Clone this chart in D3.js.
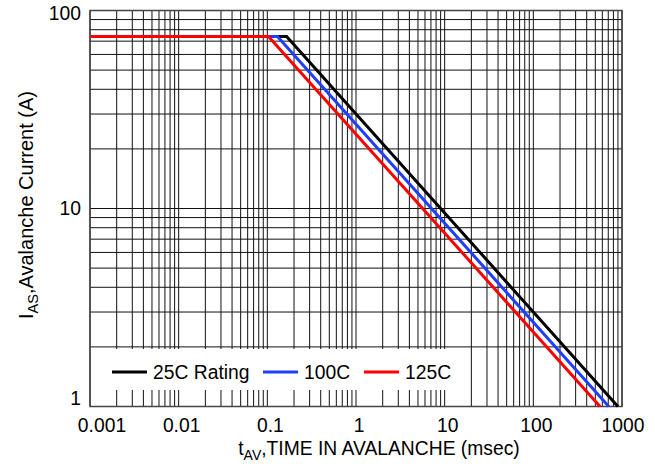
<!DOCTYPE html>
<html>
<head>
<meta charset="utf-8">
<script src="https://cdn.jsdelivr.net/npm/d3@7"></script>
<style>
  html, body { margin: 0; padding: 0; background: #fff; }
  svg text { font-family: "Liberation Sans", Arial, Helvetica, sans-serif; fill: #000; }
</style>
</head>
<body>
<svg id="chart" width="655" height="464"></svg>
<script>
// ---- data ----
const xTicks = [0.001, 0.01, 0.1, 1, 10, 100, 1000];
const xTickLabels = ["0.001", "0.01", "0.1", "1", "10", "100", "1000"];
const yTicks = [1, 10, 100];
const yTickLabels = ["1", "10", "100"];
const seriesNames = ["25C Rating", "100C", "125C"];
const seriesColors = ["#000000", "#1f3fff", "#ff0000"];
const t25 = [0.001, 0.165, 900];
const i25 = [74, 74, 1];
const t100 = [0.001, 0.13, 710];
const i100 = [74, 74, 1];
const t125 = [0.001, 0.103, 565];
const i125 = [74, 74, 1];

// ---- layout ----
const pLeft = 90, pRight = 622, pTop = 10.5, pBottom = 406.5;
const fs = 19.3;
const svg = d3.select("#chart");
const x = d3.scaleLog().domain([0.001, 1000]).range([pLeft, pRight]);
const y = d3.scaleLog().domain([1, 100]).range([pBottom, pTop]);

// grid
const g = svg.append("g");
g.selectAll("line.vx").data(x.ticks()).join("line")
  .attr("x1", d => x(d)).attr("x2", d => x(d))
  .attr("y1", pTop).attr("y2", pBottom)
  .attr("stroke", "#111").attr("stroke-width", 1);
g.selectAll("line.hy").data(y.ticks()).join("line")
  .attr("y1", d => y(d)).attr("y2", d => y(d))
  .attr("x1", pLeft).attr("x2", pRight)
  .attr("stroke", "#111").attr("stroke-width", 1);

// legend background (drawn over grid)
svg.append("rect").attr("x", pLeft + 1).attr("y", 349).attr("width", 372).attr("height", 41).attr("fill", "#fff");

// frame
svg.append("rect").attr("x", pLeft).attr("y", pTop).attr("width", pRight - pLeft).attr("height", pBottom - pTop)
  .attr("fill", "none").attr("stroke", "#444").attr("stroke-width", 1.5);

// series
const series = [[t25, i25], [t100, i100], [t125, i125]];
const line = d3.line().x(d => x(d[0])).y(d => y(d[1]));
series.forEach((s, k) => {
  const pts = s[0].map((t, j) => [t, s[1][j]]);
  svg.append("path").datum(pts).attr("d", line)
    .attr("fill", "none").attr("stroke", seriesColors[k]).attr("stroke-width", 3)
    .attr("stroke-linejoin", "miter");
});

// x tick labels
svg.selectAll("text.xl").data(xTicks).join("text")
  .attr("x", (d, i) => i === 0 ? x(d) + 12 : (i === xTicks.length - 1 ? x(d) + 1 : x(d) + 3))
  .attr("y", 432)
  .attr("text-anchor", "middle").attr("font-size", fs)
  .text((d, i) => xTickLabels[i]);

// y tick labels
svg.selectAll("text.yl").data(yTicks).join("text")
  .attr("x", 81)
  .attr("y", d => Math.max(20, Math.min(405, y(d) + 6)))
  .attr("text-anchor", "end").attr("font-size", fs)
  .text((d, i) => yTickLabels[i]);

// axis titles
const xt = svg.append("text").attr("x", 379).attr("y", 455).attr("text-anchor", "middle").attr("font-size", fs);
xt.append("tspan").text("t");
xt.append("tspan").attr("font-size", 14).attr("dy", 5).text("AV");
xt.append("tspan").attr("dy", -5).text(",TIME IN AVALANCHE (msec)");

const yt = svg.append("text").attr("transform", "translate(33,205) rotate(-90)").attr("text-anchor", "middle").attr("font-size", 20);
yt.append("tspan").text("I");
yt.append("tspan").attr("font-size", 14.5).attr("dy", 5).text("AS");
yt.append("tspan").attr("dy", -5).text(",Avalanche Current (A)");

// legend
const legX = [112, 263, 364];
const leg = svg.append("g");
seriesNames.forEach((name, k) => {
  leg.append("line").attr("x1", legX[k]).attr("x2", legX[k] + 35).attr("y1", 372).attr("y2", 372)
    .attr("stroke", seriesColors[k]).attr("stroke-width", 3);
  leg.append("text").attr("x", legX[k] + 41).attr("y", 379.3).attr("font-size", fs).text(name);
});
</script>
</body>
</html>
